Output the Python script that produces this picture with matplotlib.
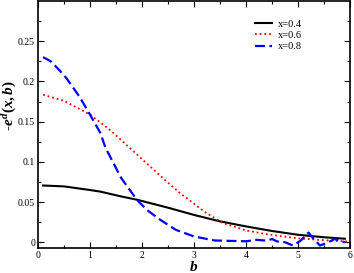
"""Recria o grafico -e^d(x,b) em funcao de b para tres valores de x."""
import matplotlib
matplotlib.use("Agg")
import matplotlib.pyplot as plt

plt.rcParams["font.family"] = "Liberation Serif"
plt.rcParams["mathtext.fontset"] = "custom"
plt.rcParams["mathtext.it"] = "Liberation Serif:italic:bold"
plt.rcParams["mathtext.rm"] = "Liberation Serif:bold"

# valores
b_04 = [0.1, 0.5, 1.0, 1.2, 1.6, 1.9, 2.5, 3.0, 3.5, 4.0, 4.5, 5.0, 5.5, 5.9]
e_04 = [0.0706, 0.0695, 0.065, 0.063, 0.057, 0.053, 0.043, 0.034, 0.026,
        0.0197, 0.014, 0.0093, 0.0062, 0.0044]

b_06 = [0.1, 0.5, 1.0, 1.2, 1.4, 2.0, 2.4, 2.75, 2.9, 3.2, 3.55, 4.0, 4.4,
        5.0, 5.6, 5.95]
e_06 = [0.1835, 0.176, 0.159, 0.149, 0.139, 0.1035, 0.080, 0.060, 0.053,
        0.038, 0.024, 0.0147, 0.010, 0.0048, 0.0022, 0.001]

b_08 = [0.1, 0.25, 0.4, 0.55, 0.8, 1.0, 1.2, 1.3, 1.6, 1.9, 2.1, 2.35, 2.65,
        3.0, 3.4, 4.0, 4.2, 4.4, 4.5, 4.6, 4.75, 4.9, 5.05, 5.2, 5.3, 5.42,
        5.55, 5.7, 5.8, 5.9]
e_08 = [0.2303, 0.225, 0.215, 0.204, 0.181, 0.159, 0.136, 0.1175, 0.080,
        0.053, 0.040, 0.028, 0.0155, 0.0072, 0.0022, 0.0012, 0.003, 0.002,
        0.004, 0.001, 0.0, -0.004, 0.002, 0.012, 0.004, -0.004, -0.001,
        0.004, 0.002, 0.0]

series = [
    ("x=0.4", b_04, e_04, dict(color="black", linestyle="-", linewidth=1.5)),
    ("x=0.6", b_06, e_06, dict(color="red", linestyle=(0, (1, 1.6)), linewidth=1.3)),
    ("x=0.8", b_08, e_08, dict(color="blue", linestyle=(0, (4.5, 2)), linewidth=1.6)),
]

fig = plt.figure(figsize=(3.54, 2.73), dpi=100)
ax = fig.add_axes([0.107, 0.092, 0.882, 0.904])

for rotulo, b, e, estilo in series:
    ax.plot(b, e, label=rotulo, **estilo)

ax.set_xlim(0, 6)
ax.set_ylim(-0.007, 0.30)
ax.set_xticks([0, 1, 2, 3, 4, 5, 6])
ax.set_xticks([0.5, 1.5, 2.5, 3.5, 4.5, 5.5], minor=True)
ax.set_yticks([0, 0.05, 0.1, 0.15, 0.2, 0.25])
ax.set_yticklabels(["0", "0.05", "0.1", "0.15", "0.2", "0.25"])
ax.set_yticks([0.025, 0.075, 0.125, 0.175, 0.225, 0.275], minor=True)
ax.tick_params(which="both", direction="in", top=True, right=True,
               labelsize=7, pad=2)
ax.tick_params(which="major", length=4, width=0.8)
ax.tick_params(which="minor", length=2, width=0.8)
for lado in ax.spines.values():
    lado.set_linewidth(1.2)

ax.set_xlabel(r"$b$", fontsize=11, labelpad=0)
ax.set_ylabel(r"-$e^{d}(x,b)$", fontsize=11, fontweight="bold")
ax.yaxis.set_label_coords(-0.062, 0.575)

ax.legend(loc="upper left", bbox_to_anchor=(0.69, 0.935), frameon=False,
          fontsize=7.5, handlelength=1.6, handletextpad=0.6,
          labelspacing=0.2, borderaxespad=0, borderpad=0.2)

fig.savefig("out.png", dpi=100)
